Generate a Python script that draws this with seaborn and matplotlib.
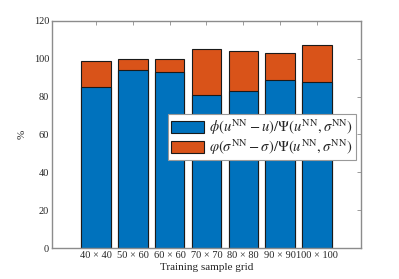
import matplotlib
matplotlib.use("Agg")
import matplotlib.pyplot as plt
import seaborn as sns
import pandas as pd
from matplotlib.patches import Patch

categories = ["40 × 40", "50 × 60", "60 × 60", "70 × 70", "80 × 80", "90 × 90", "100 × 100"]
u_part = [85.0, 94.0, 93.0, 81.0, 83.0, 89.0, 87.5]
sigma_part = [13.7, 6.0, 7.0, 24.3, 21.0, 14.3, 19.6]
yticks = [0, 20, 40, 60, 80, 100, 120]

totals = [a + b for a, b in zip(u_part, sigma_part)]
df = pd.DataFrame({"grid": categories, "u": u_part, "total": totals})

sns.set_theme(style="white")
plt.rcParams["font.family"] = ["Liberation Serif", "DejaVu Serif"]
plt.rcParams["mathtext.fontset"] = "stix"

blue = "#0072BD"
orange = "#D95319"
axcol = "#8c8c8c"

fig = plt.figure(figsize=(3.99, 2.79), dpi=100)
ax = fig.add_axes([0.13, 0.111, 0.775, 0.814])

sns.barplot(data=df, x="grid", y="total", color=orange, saturation=1, width=0.8,
            edgecolor="#1a1a1a", linewidth=0.8, ax=ax)
sns.barplot(data=df, x="grid", y="u", color=blue, saturation=1, width=0.8,
            edgecolor="#1a1a1a", linewidth=0.8, ax=ax)

ax.set_xlim(-1.2, 7.2)
ax.set_ylim(0, 120)
ax.set_yticks(yticks)
ax.set_xlabel("Training sample grid", fontsize=8, color="#262626", labelpad=2)
ax.set_ylabel("%", fontsize=8, color="#262626", labelpad=5)
ax.tick_params(direction="in", top=True, right=True, length=3, width=0.6,
               color=axcol, labelsize=7.5, labelcolor="#262626", pad=2)
for s in ax.spines.values():
    s.set_visible(True)
    s.set_color(axcol)
    s.set_linewidth(1.0)

handles = [Patch(facecolor=blue, edgecolor="#1a1a1a", linewidth=0.8),
           Patch(facecolor=orange, edgecolor="#1a1a1a", linewidth=0.8)]
labels = [r"$\phi(u^{\rm NN}-u)/\Psi(u^{\rm NN},\sigma^{\rm NN})$",
          r"$\varphi(\sigma^{\rm NN}-\sigma)/\Psi(u^{\rm NN},\sigma^{\rm NN})$"]
leg = ax.legend(handles, labels, loc="upper left", bbox_to_anchor=(0.375, 0.588),
                borderaxespad=0, fontsize=10.5, fancybox=False, framealpha=1,
                edgecolor="#999999", handlelength=2.3, handleheight=0.85,
                handletextpad=0.3, borderpad=0.2, labelspacing=0.05)
leg.get_frame().set_linewidth(0.8)

fig.savefig("out.png", dpi=100)
